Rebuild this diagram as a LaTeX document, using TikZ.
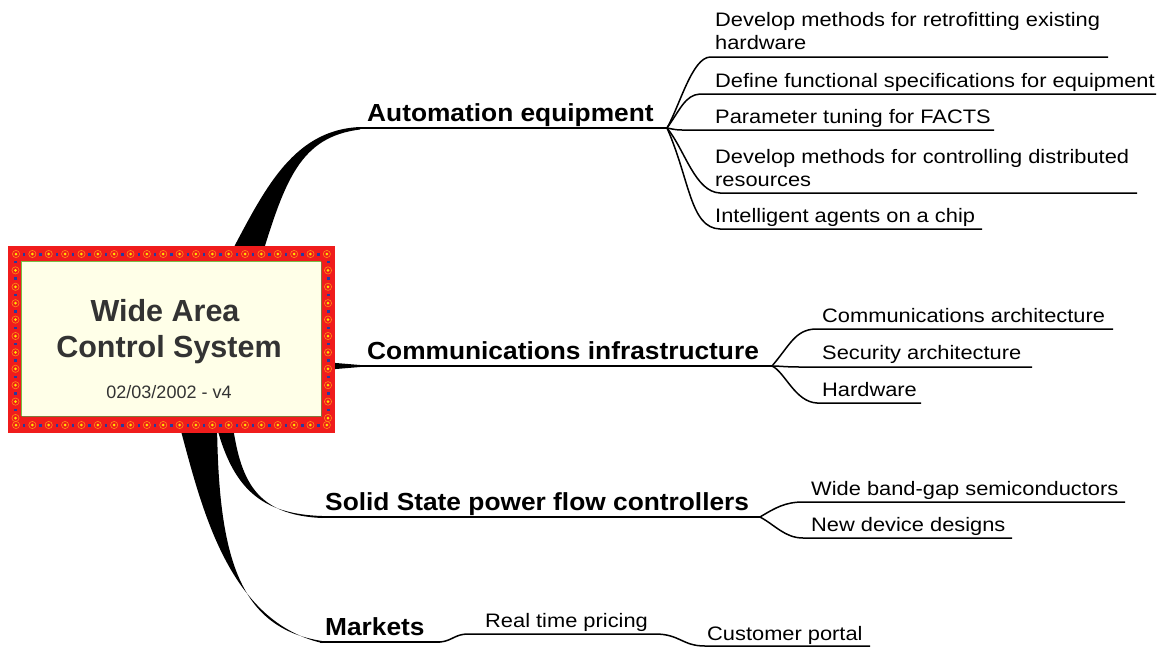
\documentclass[tikz,border=0pt]{standalone}
\usepackage{fontspec}
\setmainfont{Liberation Sans}
\newfontfamily\subfont[FakeStretch=1.12]{Liberation Sans}
\newfontfamily\topicfont[FakeStretch=1.065]{Liberation Sans}
\definecolor{framered}{RGB}{240,28,28}
\definecolor{dotyellow}{RGB}{255,226,0}
\definecolor{dotblue}{RGB}{40,60,160}
\definecolor{scallop}{RGB}{255,140,20}
\definecolor{cream}{RGB}{255,255,232}
\definecolor{edgegreen}{RGB}{120,190,70}
\definecolor{edgeolive}{RGB}{130,120,60}
\definecolor{titlegray}{RGB}{51,51,51}
\begin{document}
\begin{tikzpicture}[x=1pt,y=-1pt,
  topic/.style={anchor=base west, inner sep=0pt,
    font=\topicfont\bfseries\fontsize{24.7}{28}\selectfont},
  subtopic/.style={anchor=base west, inner sep=0pt, align=left,
    font=\subfont\fontsize{19.5}{22.5}\selectfont},
  titletext/.style={anchor=base, inner sep=0pt, text=titlegray,
    font=\bfseries\fontsize{30.5}{36}\selectfont},
  datetext/.style={anchor=base, inner sep=0pt, text=titlegray,
    font=\fontsize{18}{22}\selectfont},
  trunk/.style={fill=black},
  topicline/.style={draw=black, line width=2pt},
  subline/.style={draw=black, line width=1.5pt}]
\useasboundingbox (0,0) rectangle (1164,648);

% junctions where the sub-branches fan out
\coordinate (J1) at (667,128);
\coordinate (J2) at (772,366);
\coordinate (J3) at (760,517);

% tapered trunks leaving the central box
\fill[trunk] (226,262) .. controls (262,195) and (290,130) .. (360,127)
   -- (360,129.5) .. controls (300,137) and (285,180) .. (260,262) -- cycle;
\fill[trunk] (232,420) .. controls (240,480) and (255,515) .. (322,518)
   -- (322,516) .. controls (262,514) and (232,490) .. (215,420) -- cycle;
\fill[trunk] (178,420) .. controls (200,500) and (225,620) .. (322,643)
   -- (322,641) .. controls (240,628) and (218,560) .. (217,420) -- cycle;
\fill[trunk] (330,362.5) -- (360,365) -- (360,367) -- (330,369.5) -- cycle;

% central box with its decorated frame
\node (hub) [fill=framered, inner sep=0pt, minimum width=327pt, minimum height=187pt]
  at (171.5,339.5) {};
\foreach \i in {0,...,38} {
  \pgfmathsetmacro{\xx}{16+\i*8.18}
  \ifodd\i
    \fill[dotblue] (\xx-1.2,252.5) rectangle (\xx+1.2,255.5);
    \fill[dotblue] (\xx-1.2,423.5) rectangle (\xx+1.2,426.5);
  \else
    \draw[scallop, line width=0.6pt] (\xx,254) circle (3.6);
    \draw[scallop, line width=0.6pt] (\xx,425) circle (3.6);
    \fill[dotyellow] (\xx,254) circle (1.5);
    \fill[dotyellow] (\xx,425) circle (1.5);
  \fi
}
\foreach \i in {1,...,20} {
  \pgfmathsetmacro{\yy}{254+\i*8.2}
  \ifodd\i
    \fill[dotblue] (14,\yy-1.2) rectangle (17,\yy+1.2);
    \fill[dotblue] (326.5,\yy-1.2) rectangle (329.5,\yy+1.2);
  \else
    \draw[scallop, line width=0.6pt] (15.5,\yy) circle (3.6);
    \draw[scallop, line width=0.6pt] (328,\yy) circle (3.6);
    \fill[dotyellow] (15.5,\yy) circle (1.5);
    \fill[dotyellow] (328,\yy) circle (1.5);
  \fi
}
\node (hubin) [fill=cream, inner sep=0pt, minimum width=299pt, minimum height=154pt]
  at (171.5,339) {};
\draw[edgegreen, line width=1.3pt] (hubin.south west) -- (hubin.north west) -- (hubin.north east);
\draw[edgeolive, line width=1.3pt] (hubin.north east) -- (hubin.south east) -- (hubin.south west);

\node (title1) [titletext] at (165,321) {Wide Area};
\node (title2) [titletext] at (169,357) {Control System};
\node (stamp)  [datetext]  at (169,398) {02/03/2002 - v4};

% main topics
\node (auto)  [topic] at (367,121) {Automation equipment};
\node (comm)  [topic] at (367,359) {Communications infrastructure};
\node (solid) [topic] at (325,510) {Solid State power flow controllers};
\node (mark)  [topic] at (325,635) {Markets};

\draw[topicline] (357,128) -- (J1);
\draw[topicline] (335,366) -- (J2);
\draw[topicline] (320,517) -- (J3);
\draw[topicline] (320,642) -- (440,642);

% automation equipment
\node (a1) [subtopic] at (715,49)  {Develop methods for retrofitting existing\\hardware};
\node (a2) [subtopic] at (715,87)  {Define functional specifications for equipment};
\node (a3) [subtopic] at (715,123) {Parameter tuning for FACTS};
\node (a4) [subtopic] at (715,186) {Develop methods for controlling distributed\\resources};
\node (a5) [subtopic] at (715,222) {Intelligent agents on a chip};
\draw[subline] (J1) .. controls (680,105) and (692,58) .. (710,57) -- (1108,57);
\draw[subline] (J1) .. controls (680,110) and (685,95) .. (700,94) -- (1156,94);
\draw[subline] (J1) .. controls (672,129) and (676,130) .. (682,130) -- (994,130);
\draw[subline] (J1) .. controls (685,150) and (695,192) .. (720,193) -- (1137,193);
\draw[subline] (J1) .. controls (690,180) and (690,228) .. (720,229) -- (982,229);

% communications infrastructure
\node (c1) [subtopic] at (822,322) {Communications architecture};
\node (c2) [subtopic] at (822,359) {Security architecture};
\node (c3) [subtopic] at (822,396) {Hardware};
\draw[subline] (J2) .. controls (790,345) and (795,330) .. (815,329) -- (1113,329);
\draw[subline] (J2) .. controls (780,366) and (785,367) .. (800,367) -- (1032,367);
\draw[subline] (J2) .. controls (785,372) and (795,402) .. (817,403) -- (921,403);

% solid state power flow controllers
\node (s1) [subtopic] at (811,495) {Wide band-gap semiconductors};
\node (s2) [subtopic] at (811,531) {New device designs};
\draw[subline] (J3) .. controls (775,508) and (785,502) .. (803,502) -- (1125,502);
\draw[subline] (J3) .. controls (775,525) and (785,538) .. (803,538) -- (1012,538);

% markets
\node (m1) [subtopic] at (485,627) {Real time pricing};
\node (m2) [subtopic] at (707,640) {Customer portal};
\draw[subline] (440,642) .. controls (452,641) and (455,634) .. (468,634) -- (655,634)
   .. controls (680,634) and (682,646) .. (705,646) -- (870,646);
\end{tikzpicture}
\end{document}
